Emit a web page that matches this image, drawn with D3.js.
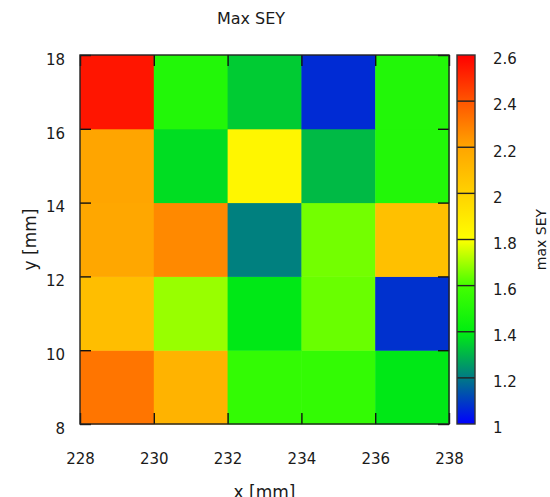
<!DOCTYPE html>
<html>
<head>
<meta charset="utf-8">
<script src="https://cdn.jsdelivr.net/npm/d3@7"></script>
<style>
  html, body { margin: 0; padding: 0; background: #fff; }
  svg text { font-family: "DejaVu Sans", Verdana, sans-serif; fill: #1a1a1a; }
  .axis path { display: none; }
  .axis line { stroke: #111; stroke-width: 1.4; }
</style>
</head>
<body>
<svg id="chart" width="550" height="497"></svg>
<script>
// ── data ────────────────────────────────────────────
// cell centres (mm) and max SEY per cell, rows listed from bottom (y=9) to top (y=17)
const xCenters = [229, 231, 233, 235, 237];
const yCenters = [9, 11, 13, 15, 17];
const seyRow9  = [2.32, 2.14, 1.55, 1.55, 1.39];
const seyRow11 = [2.09, 1.69, 1.39, 1.64, 1.08];
const seyRow13 = [2.19, 2.27, 1.21, 1.65, 2.08];
const seyRow15 = [2.20, 1.37, 1.84, 1.31, 1.50];
const seyRow17 = [2.55, 1.50, 1.34, 1.07, 1.50];
const seyRows = [seyRow9, seyRow11, seyRow13, seyRow15, seyRow17];

const xTicks = [228, 230, 232, 234, 236, 238];
const yTicks = [8, 10, 12, 14, 16, 18];
const cbTicks = [1, 1.2, 1.4, 1.6, 1.8, 2, 2.2, 2.4, 2.6];

// palette
const paletteValues = [1, 1.2, 1.4, 1.6, 1.8, 2, 2.2, 2.4, 2.6];
const paletteColors = ['#0000ff', '#007a85', '#00ee10', '#44ff00', '#ffff00',
                       '#ffd200', '#ffa500', '#ff5500', '#ff0000'];

// ── layout ──────────────────────────────────────────
const plot = { left: 80, right: 449, top: 55, bottom: 424 };
const cbox = { left: 457, right: 475 };

const svg = d3.select('#chart');

const x = d3.scaleLinear().domain([228, 238]).range([plot.left, plot.right]);
const y = d3.scaleLinear().domain([8, 18]).range([plot.bottom, plot.top]);
const color = d3.scaleLinear().domain(paletteValues).range(paletteColors)
  .interpolate(d3.interpolateRgb).clamp(true);
const cb = d3.scaleLinear().domain([1, 2.6]).range([plot.bottom, plot.top]);

// cells
const cells = [];
seyRows.forEach((row, j) => row.forEach((v, i) => cells.push({ cx: xCenters[i], cy: yCenters[j], v })));

svg.append('g').selectAll('rect')
  .data(cells)
  .enter().append('rect')
  .attr('x', d => x(d.cx - 1))
  .attr('y', d => y(d.cy + 1))
  .attr('width', d => x(d.cx + 1) - x(d.cx - 1) + 0.5)
  .attr('height', d => y(d.cy - 1) - y(d.cy + 1) + 0.5)
  .attr('fill', d => color(d.v));

// axes, ticks pointing inward, mirrored on top/right
const tickLen = 11;
const fmt = d3.format('d');

const xAxis = svg.append('g').attr('class', 'axis')
  .attr('transform', `translate(0,${plot.bottom})`)
  .call(d3.axisBottom(x).tickValues(xTicks).tickFormat(fmt).tickSize(-tickLen).tickPadding(29));
xAxis.selectAll('text').attr('font-size', 15);

svg.append('g').attr('class', 'axis')
  .attr('transform', `translate(0,${plot.top})`)
  .call(d3.axisTop(x).tickValues(xTicks).tickFormat('').tickSize(-tickLen));

const yAxis = svg.append('g').attr('class', 'axis')
  .attr('transform', `translate(${plot.left},0)`)
  .call(d3.axisLeft(y).tickValues(yTicks).tickFormat(fmt).tickSize(-tickLen).tickPadding(15));
yAxis.selectAll('text').attr('font-size', 15).attr('dy', '0.62em');

svg.append('g').attr('class', 'axis')
  .attr('transform', `translate(${plot.right},0)`)
  .call(d3.axisRight(y).tickValues(yTicks).tickFormat('').tickSize(-tickLen));

// plot frame
svg.append('rect')
  .attr('x', plot.left).attr('y', plot.top)
  .attr('width', plot.right - plot.left).attr('height', plot.bottom - plot.top)
  .attr('fill', 'none').attr('stroke', '#222').attr('stroke-width', 1.4);

// colour box
const defs = svg.append('defs');
const grad = defs.append('linearGradient')
  .attr('id', 'cbgrad').attr('x1', 0).attr('y1', 1).attr('x2', 0).attr('y2', 0);
grad.selectAll('stop')
  .data(paletteValues)
  .enter().append('stop')
  .attr('offset', d => (d - 1) / 1.6)
  .attr('stop-color', d => color(d));

svg.append('rect')
  .attr('x', cbox.left).attr('y', plot.top)
  .attr('width', cbox.right - cbox.left).attr('height', plot.bottom - plot.top)
  .attr('fill', 'url(#cbgrad)');

svg.append('g').selectAll('line')
  .data(cbTicks.slice(1, -1))
  .enter().append('line')
  .attr('x1', cbox.left).attr('x2', cbox.right)
  .attr('y1', d => cb(d)).attr('y2', d => cb(d))
  .attr('stroke', '#222').attr('stroke-width', 1.4);

svg.append('rect')
  .attr('x', cbox.left).attr('y', plot.top)
  .attr('width', cbox.right - cbox.left).attr('height', plot.bottom - plot.top)
  .attr('fill', 'none').attr('stroke', '#333').attr('stroke-width', 1.4);

svg.append('g').selectAll('text')
  .data(cbTicks)
  .enter().append('text')
  .attr('x', cbox.right + 18)
  .attr('y', d => cb(d))
  .attr('dy', '0.62em')
  .attr('font-size', 15)
  .text(d => d3.format('~g')(d));

// titles and labels
svg.append('text')
  .attr('x', 251).attr('y', 24)
  .attr('text-anchor', 'middle').attr('font-size', 16)
  .text('Max SEY');

svg.append('text')
  .attr('transform', `translate(36,${(plot.top + plot.bottom) / 2}) rotate(-90)`)
  .attr('text-anchor', 'middle').attr('font-size', 17)
  .text('y [mm]');

svg.append('text')
  .attr('x', (plot.left + plot.right) / 2).attr('y', 498)
  .attr('text-anchor', 'middle').attr('font-size', 17)
  .text('x [mm]');

svg.append('text')
  .attr('transform', `translate(546,${(plot.top + plot.bottom) / 2}) rotate(-90)`)
  .attr('text-anchor', 'middle').attr('font-size', 14)
  .text('max SEY');
</script>
</body>
</html>
